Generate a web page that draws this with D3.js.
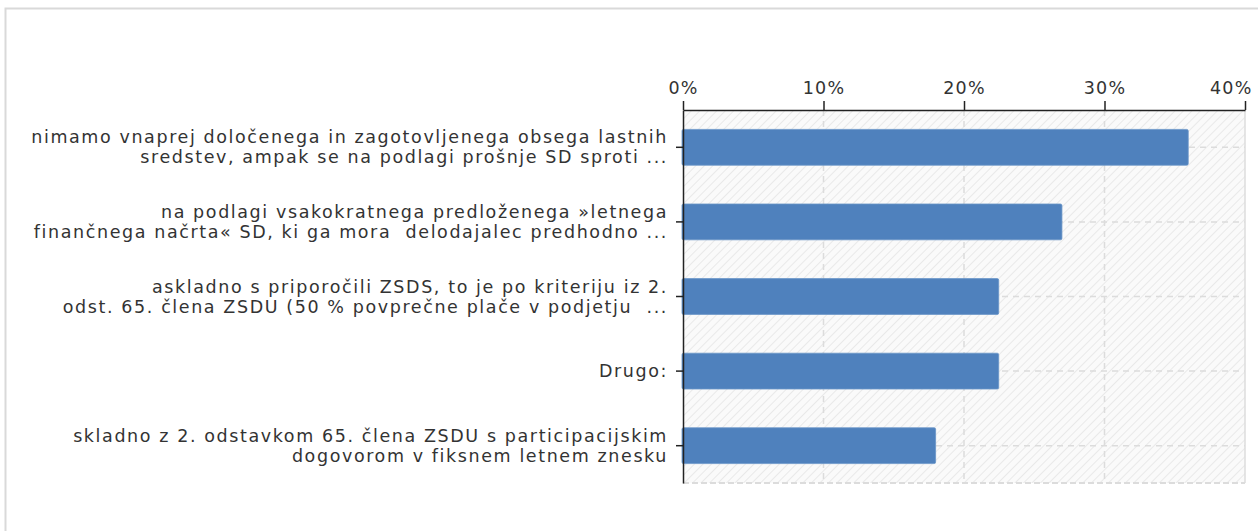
<!DOCTYPE html>
<html>
<head>
<meta charset="utf-8">
<script src="https://cdn.jsdelivr.net/npm/d3@7"></script>
<style>
  body { margin: 0; background: #fff; }
  text { font-family: "DejaVu Sans", sans-serif; fill: #333; }
</style>
</head>
<body>
<svg></svg>
<script>
const svg = d3.select("svg");
const width = 1258;
const height = 531;
svg.attr("width", width).attr("height", height);

// odgovori (vsak odgovor je lahko več vrstic)
const categories = [
  "nimamo vnaprej določenega in zagotovljenega obsega lastnih",
  "na podlagi vsakokratnega predloženega »letnega",
  "askladno s priporočili ZSDS, to je po kriteriju iz 2.",
  "Drugo:",
  "skladno z 2. odstavkom 65. člena ZSDU s participacijskim",
];
const labelLines = [
  ["nimamo vnaprej določenega in zagotovljenega obsega lastnih", "sredstev, ampak se na podlagi prošnje SD sproti ..."],
  ["na podlagi vsakokratnega predloženega »letnega", "finančnega načrta« SD, ki ga mora  delodajalec predhodno ..."],
  ["askladno s priporočili ZSDS, to je po kriteriju iz 2.", "odst. 65. člena ZSDU (50 % povprečne plače v podjetju  ..."],
  ["Drugo:"],
  ["skladno z 2. odstavkom 65. člena ZSDU s participacijskim", "dogovorom v fiksnem letnem znesku"],
];
const values = [0.3596, 0.2697, 0.2247, 0.2247, 0.1798];
const xTicks = [0, 0.1, 0.2, 0.3, 0.4];

const margin = { left: 683, right: 13, top: 110, bottom: 48 };
const graphWidth = width - margin.left - margin.right;
const graphHeight = height - margin.top - margin.bottom;

// okvir
svg.append("rect")
  .attr("x", 5.5).attr("y", 8.5)
  .attr("width", 1300).attr("height", 600)
  .attr("fill", "none")
  .attr("stroke", "#d9d9d9")
  .attr("stroke-width", 2);

const defs = svg.append("defs");
const pat = defs.append("pattern")
  .attr("id", "hatch")
  .attr("patternUnits", "userSpaceOnUse")
  .attr("width", 6).attr("height", 6)
  .attr("patternTransform", "rotate(45)");
pat.append("rect").attr("width", 6).attr("height", 6).attr("fill", "#fafafa");
pat.append("line")
  .attr("x1", 0).attr("y1", 0).attr("x2", 0).attr("y2", 6)
  .attr("stroke", "#e9e9e9").attr("stroke-width", 2);

const xScale = d3.scaleLinear().domain([0, 0.4]).range([0, graphWidth]);
const yScale = d3.scaleBand()
  .domain(categories)
  .range([0, graphHeight])
  .paddingInner(0.52)
  .paddingOuter(0.26);

const g = svg.append("g")
  .attr("transform", `translate(${margin.left}, ${margin.top})`);

// ozadje
g.append("rect")
  .attr("width", graphWidth).attr("height", graphHeight)
  .attr("fill", "url(#hatch)");

// mreža
g.selectAll(".vgrid")
  .data(xTicks.slice(1))
  .enter().append("line")
  .attr("x1", (d) => xScale(d)).attr("x2", (d) => xScale(d))
  .attr("y1", 0).attr("y2", graphHeight)
  .attr("stroke", "#dcdcdc")
  .attr("stroke-dasharray", (d, i) => (i === xTicks.length - 2 ? null : "6,5"))
  .attr("stroke-width", 1.5);

g.selectAll(".hgrid")
  .data(categories)
  .enter().append("line")
  .attr("x1", 0).attr("x2", graphWidth)
  .attr("y1", (d) => yScale(d) + yScale.bandwidth() / 2)
  .attr("y2", (d) => yScale(d) + yScale.bandwidth() / 2)
  .attr("stroke", "#dcdcdc")
  .attr("stroke-dasharray", "6,5")
  .attr("stroke-width", 1.5);

g.append("line")
  .attr("x1", 0).attr("x2", graphWidth)
  .attr("y1", graphHeight).attr("y2", graphHeight)
  .attr("stroke", "#dcdcdc")
  .attr("stroke-dasharray", "6,3")
  .attr("stroke-width", 2);

// stolpci
g.selectAll(".bar")
  .data(values)
  .enter().append("rect")
  .attr("class", "bar")
  .attr("x", -1)
  .attr("y", (d, i) => yScale(categories[i]))
  .attr("width", (d) => xScale(d) + 1)
  .attr("height", yScale.bandwidth())
  .attr("rx", 1.5)
  .attr("fill", "#4f81bd")
  .attr("stroke", "#6a95c8")
  .attr("stroke-width", 0.8);

// os x (zgoraj)
const xAxis = d3.axisTop(xScale)
  .tickValues(xTicks)
  .tickFormat(d3.format(".0%"))
  .tickSize(9)
  .tickSizeOuter(0)
  .tickPadding(7);
const xAxisG = g.append("g").call(xAxis);
xAxisG.select(".domain").attr("stroke", "#222").attr("stroke-width", 1.5);
xAxisG.selectAll(".tick line").attr("stroke", "#222").attr("stroke-width", 1.5);
xAxisG.selectAll(".tick text")
  .attr("font-size", 17.5)
  .attr("font-family", "DejaVu Sans")
  .attr("letter-spacing", 1.2)
  .attr("fill", "#333");
// zadnja oznaka ne sme čez rob
xAxisG.selectAll(".tick text")
  .filter((d) => d === xTicks[xTicks.length - 1])
  .attr("text-anchor", "end")
  .attr("x", 7);

// os y
const yAxis = d3.axisLeft(yScale).tickSize(7).tickSizeOuter(0).tickFormat("");
const yAxisG = g.append("g").call(yAxis);
yAxisG.select(".domain").attr("stroke", "#222").attr("stroke-width", 1.5);
yAxisG.selectAll(".tick line").attr("stroke", "#222").attr("stroke-width", 1.5);

// oznake kategorij
const labels = g.selectAll(".cat-label")
  .data(categories)
  .enter().append("text")
  .attr("class", "cat-label")
  .attr("text-anchor", "end")
  .attr("font-size", 17.5)
  .attr("letter-spacing", 1.6)
  .style("white-space", "pre")
  .attr("transform", (d) => `translate(-15, ${yScale(d) + yScale.bandwidth() / 2})`);

labels.each(function (d, i) {
  const lines = labelLines[i];
  const t = d3.select(this);
  const start = lines.length === 1 ? 6 : -4;
  lines.forEach((line, j) => {
    t.append("tspan")
      .attr("x", 0)
      .attr("y", start + j * 20)
      .text(line);
  });
});
</script>
</body>
</html>
